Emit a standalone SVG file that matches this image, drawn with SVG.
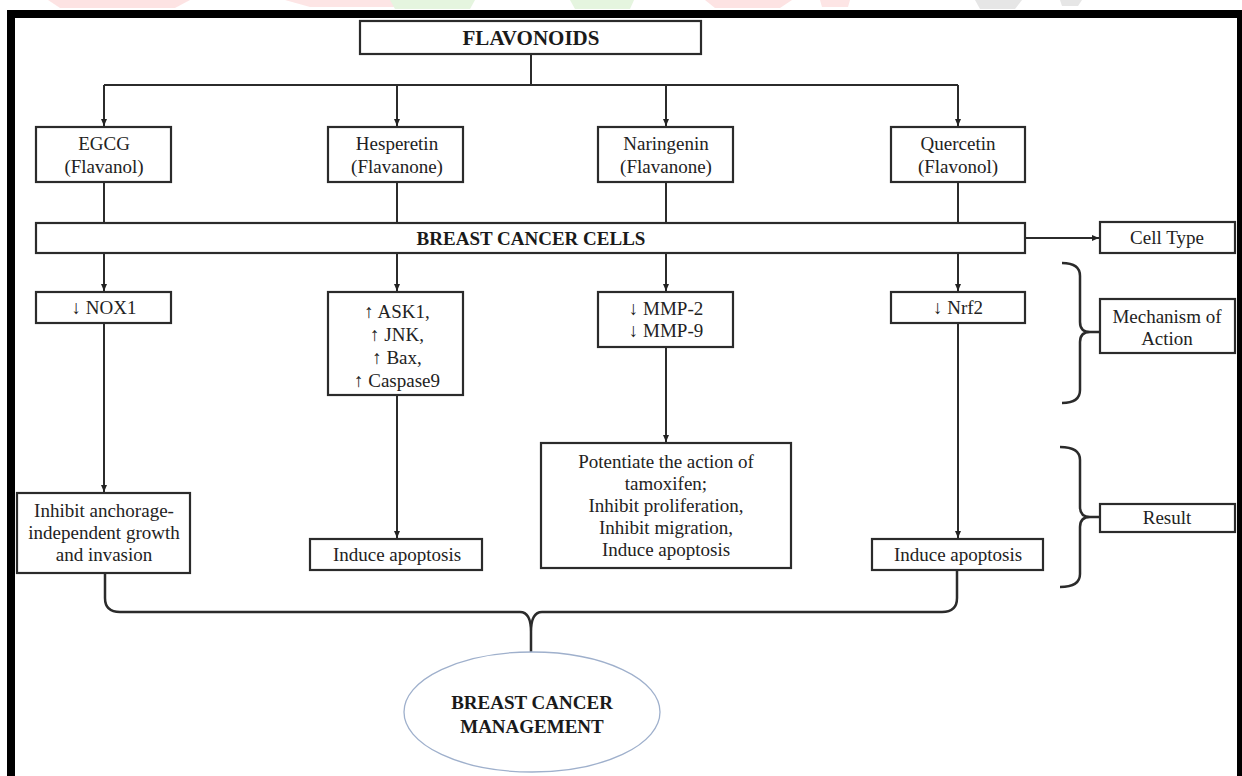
<svg xmlns="http://www.w3.org/2000/svg" width="1242" height="776" viewBox="0 0 1242 776">
<defs>
<marker id="ah" markerWidth="8" markerHeight="8" refX="7" refY="4" orient="auto" markerUnits="userSpaceOnUse">
<path d="M0,1 L7,4 L0,7 Z" fill="#222"/>
</marker>
<style>
.box{fill:#fff;stroke:#2b2b2b;stroke-width:2.2}
.t{font-family:"Liberation Serif","Times New Roman",serif;font-size:19px;fill:#222;text-anchor:middle}
.b{font-family:"Liberation Serif","Times New Roman",serif;font-size:19px;font-weight:bold;fill:#1a1a1a;text-anchor:middle}
.ln{fill:none;stroke:#2b2b2b;stroke-width:2}
.ar{fill:none;stroke:#2b2b2b;stroke-width:2;marker-end:url(#ah)}
.br{fill:none;stroke:#2b2b2b;stroke-width:2.5}
</style>
</defs>
<rect width="1242" height="776" fill="#fff"/>
<g id="watermark" opacity="0.9">
<path d="M48,0 L190,0 L175,8 L60,8 Z" fill="#fde0e0"/>
<path d="M285,0 L430,0 L400,7 L310,7 Z" fill="#fde3e3"/>
<path d="M390,0 L475,0 L470,9 L395,9 Z" fill="#e3f4dc"/>
<path d="M570,0 L634,0 L630,9 L575,9 Z" fill="#e3f4dc"/>
<path d="M705,0 L792,0 L780,8 L715,8 Z" fill="#fde0e0"/>
<path d="M820,0 L850,0 L848,7 L822,7 Z" fill="#fde3e3"/>
<path d="M975,0 L1022,0 L1015,9 L980,9 Z" fill="#e4e4e4"/>
<path d="M1060,0 L1082,0 L1078,6 L1062,6 Z" fill="#e4e4e4"/>
</g>
<g id="frame">
<rect x="7" y="10" width="1235" height="8" fill="#000"/>
<rect x="7" y="10" width="8" height="766" fill="#000"/>
<rect x="1237" y="10" width="5" height="766" fill="#000"/>
</g>
<g id="connectors">
<path class="ln" d="M531,54 L531,85 M104,85 L958,85"/>
<path class="ar" d="M104,85 L104,126"/>
<path class="ar" d="M397,85 L397,126"/>
<path class="ar" d="M666,85 L666,126"/>
<path class="ar" d="M958,85 L958,126"/>
<path class="ln" d="M104,182 L104,223 M397,182 L397,223 M666,182 L666,223 M958,182 L958,223"/>
<path class="ar" d="M1025,238 L1099,238"/>
<path class="ar" d="M104,253 L104,291"/>
<path class="ar" d="M397,253 L397,291"/>
<path class="ar" d="M666,253 L666,291"/>
<path class="ar" d="M958,253 L958,291"/>
<path class="ar" d="M104,323 L104,492"/>
<path class="ar" d="M397,395 L397,538"/>
<path class="ar" d="M666,347 L666,442"/>
<path class="ar" d="M958,323 L958,538"/>
<path class="br" d="M1062,263 Q1080,263 1080,276 L1080,322 Q1080,332 1090,332 Q1080,332 1080,342 L1080,390 Q1080,403 1062,403 M1088,332 L1100,332"/>
<path class="br" d="M1060,447 Q1080,447 1080,460 L1080,507 Q1080,517 1090,517 Q1080,517 1080,527 L1080,574 Q1080,587 1060,587 M1088,517 L1100,517"/>
<path class="br" d="M105,573 L105,598 Q105,612 120,612 L520,612 Q531,612 531,632 L531,652 M957,570 L957,598 Q957,612 942,612 L542,612 Q531,612 531,632"/>
</g>
<g id="flavonoids"><rect class="box" x="360" y="21" width="341" height="33"/><text class="b" x="531" y="45" style="font-size:21px">FLAVONOIDS</text></g>
<g id="egcg"><rect class="box" x="36" y="127" width="135" height="55"/><text class="t" x="104" y="150">EGCG</text><text class="t" x="104" y="173">(Flavanol)</text></g>
<g id="hesperetin"><rect class="box" x="328" y="127" width="135" height="55"/><text class="t" x="397" y="150">Hesperetin</text><text class="t" x="397" y="173">(Flavanone)</text></g>
<g id="naringenin"><rect class="box" x="598" y="127" width="135" height="55"/><text class="t" x="666" y="150">Naringenin</text><text class="t" x="666" y="173">(Flavanone)</text></g>
<g id="quercetin"><rect class="box" x="891" y="127" width="134" height="55"/><text class="t" x="958" y="150">Quercetin</text><text class="t" x="958" y="173">(Flavonol)</text></g>
<g id="cells"><rect class="box" x="36" y="223" width="989" height="30"/><text class="b" x="531" y="245">BREAST CANCER CELLS</text></g>
<g id="celltype"><rect class="box" x="1100" y="222" width="135" height="31"/><text class="t" x="1167" y="244">Cell Type</text></g>
<g id="nox1"><rect class="box" x="36" y="292" width="135" height="31"/><text class="t" x="104" y="314">↓ NOX1</text></g>
<g id="hesp-mech"><rect class="box" x="328" y="292" width="135" height="103"/><text class="t" x="397" y="318">↑ ASK1,</text><text class="t" x="397" y="341">↑ JNK,</text><text class="t" x="397" y="364">↑ Bax,</text><text class="t" x="397" y="387">↑ Caspase9</text></g>
<g id="mmp"><rect class="box" x="598" y="292" width="135" height="55"/><text class="t" x="666" y="315">↓ MMP-2</text><text class="t" x="666" y="337">↓ MMP-9</text></g>
<g id="nrf2"><rect class="box" x="891" y="292" width="134" height="31"/><text class="t" x="958" y="314">↓ Nrf2</text></g>
<g id="mechanism"><rect class="box" x="1100" y="299" width="135" height="54"/><text class="t" x="1167" y="323">Mechanism of</text><text class="t" x="1167" y="345">Action</text></g>
<g id="inhibit"><rect class="box" x="17" y="493" width="173" height="80"/><text class="t" x="104" y="517">Inhibit anchorage-</text><text class="t" x="104" y="539">independent growth</text><text class="t" x="104" y="561">and invasion</text></g>
<g id="apoptosis1"><rect class="box" x="310" y="539" width="172" height="31"/><text class="t" x="397" y="561">Induce apoptosis</text></g>
<g id="potentiate"><rect class="box" x="541" y="443" width="250" height="125"/><text class="t" x="666" y="468">Potentiate the action of</text><text class="t" x="666" y="490">tamoxifen;</text><text class="t" x="666" y="512">Inhibit proliferation,</text><text class="t" x="666" y="534">Inhibit migration,</text><text class="t" x="666" y="556">Induce apoptosis</text></g>
<g id="apoptosis2"><rect class="box" x="872" y="539" width="171" height="31"/><text class="t" x="958" y="561">Induce apoptosis</text></g>
<g id="result"><rect class="box" x="1100" y="504" width="135" height="28"/><text class="t" x="1167" y="524">Result</text></g>
<g id="management"><ellipse cx="532" cy="712" rx="128" ry="60" fill="#fff" stroke="#9fb0cc" stroke-width="1.3"/><text class="b" x="532" y="709">BREAST CANCER</text><text class="b" x="532" y="733">MANAGEMENT</text></g>
</svg>
